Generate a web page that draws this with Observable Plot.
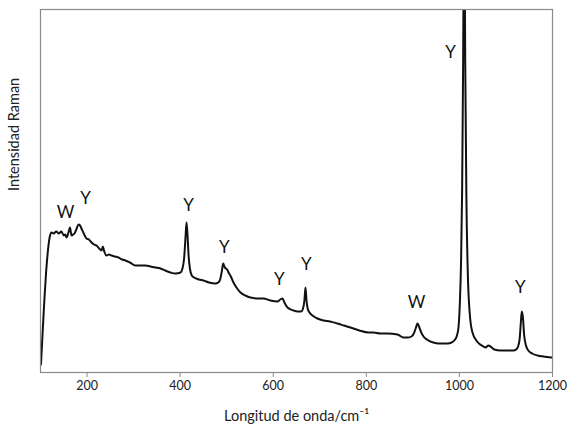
<!DOCTYPE html>
<html>
<head>
<meta charset="utf-8">
<script src="https://cdn.jsdelivr.net/npm/d3@7"></script>
<script src="https://cdn.jsdelivr.net/npm/@observablehq/plot@0.6"></script>
<style>
  html, body { margin: 0; padding: 0; background: #fff; }
  svg { display: block; }
</style>
</head>
<body>
<div id="chart"></div>
<script>
// Raman spectrum (wavenumber cm-1, intensity in arbitrary units)
const wavenumber = [101, 104, 108, 112, 116, 120, 124, 128, 134, 139, 145, 150, 153, 156, 160, 163.5, 166.5, 170, 173, 177, 181.5, 185, 188, 193, 198.8, 204, 209.6, 215, 220.3, 226, 231, 234, 237, 241.8, 247, 252.5, 260, 267.6, 275, 282.6, 292, 304, 315, 325.6, 336, 347, 357.8, 368, 379.3, 390, 400.8, 405, 408.5, 411.5, 413.7, 415.8, 418, 421, 425, 430, 440, 450.2, 462, 476, 482, 486, 489.5, 492.5, 495, 498, 501, 504, 509, 514.6, 521, 529.7, 540, 551, 568.4, 579, 594, 609, 615, 620, 624, 630.6, 643.5, 652, 660, 664, 667, 669.3, 671.5, 674, 678, 684.4, 695, 708, 722, 738, 752, 766, 785, 804.7, 815.4, 830, 845.5, 867, 880, 890, 897, 902, 906, 910, 914, 918, 923, 930, 944, 955, 965.8, 975, 983, 989, 994, 998, 1001, 1003.5, 1005.8, 1008, 1010.2, 1012.5, 1015, 1018, 1022, 1028, 1038, 1051.7, 1056, 1062.5, 1075, 1088, 1102, 1116, 1122, 1126, 1129.5, 1132, 1134, 1136.5, 1139, 1143, 1148, 1156.4, 1168, 1180.6, 1198];
const intensity = [8, 35, 70, 100, 122, 136, 140, 139, 141, 139, 141, 137, 138, 135, 140, 145, 137, 138, 139, 143, 148, 147, 144, 139, 134, 133, 130, 128, 127, 124, 122, 126, 121, 117, 118, 117, 116, 115, 113, 112, 110, 107, 107, 107, 106, 105, 104, 102, 100, 99, 100, 104, 114, 135, 150, 138, 118, 104, 97, 95, 93, 92, 90, 89, 90, 93, 101, 109, 106, 104, 103, 100, 96, 90, 85, 80, 77, 75, 74, 74, 72, 71, 73, 74, 70, 65, 62, 61, 61, 64, 72, 85, 72, 64, 60, 57, 54, 52, 51, 49, 47, 45, 42, 40, 40, 39, 39, 38, 35, 35, 36, 39, 44, 49, 45, 40, 36, 33, 30, 29, 29, 29, 30, 32, 36, 45, 70, 110, 180, 310, 480, 310, 175, 100, 60, 40, 31, 26, 25, 27, 23, 22, 22, 22, 23, 26, 34, 50, 61, 55, 38, 27, 22, 19, 17, 16, 15];

// Band assignments
const bandText = ["W", "Y", "Y", "Y", "Y", "Y", "W", "Y", "Y"];
const bandX = [154, 197, 418, 495, 613, 671, 908, 981, 1131];
const bandY = [160, 174, 167, 125, 93, 108, 70, 320, 85];

const xTicks = [200, 400, 600, 800, 1000, 1200];
const xTitle = "Longitud de onda/cm\u207B\u00B9";
const yTitle = "Intensidad Raman";

const spectrum = wavenumber.map((w, i) => ({w, v: intensity[i]}));
const bands = bandText.map((t, i) => ({t, x: bandX[i], y: bandY[i]}));

const font = "Lato, 'Open Sans', 'DejaVu Sans', sans-serif";

const chart = Plot.plot({
  width: 567,
  height: 431,
  marginLeft: 40,
  marginRight: 15,
  marginTop: 9,
  marginBottom: 59,
  style: {fontFamily: font, background: "#fff", color: "#222"},
  x: {domain: [100, 1200], ticks: xTicks, label: null},
  y: {domain: [0, 363], axis: null},
  marks: [
    Plot.line(spectrum, {x: "w", y: "v", stroke: "#111", strokeWidth: 2, clip: true, curve: "monotone-x"}),
    Plot.frame({stroke: "#8a8a8a", strokeWidth: 1.2}),
    Plot.axisX({ticks: xTicks, tickFormat: d => String(d), tickSize: 5, tickPadding: 4, fontSize: 12.5, label: null, stroke: "#8a8a8a", color: "#222"}),
    Plot.text(bands, {x: "x", y: "y", text: "t", fontSize: 17, fill: "#111"}),
    Plot.text([xTitle], {text: d => d, frameAnchor: "bottom", dy: 48, fontSize: 14.5, fill: "#222"}),
    Plot.text([yTitle], {text: d => d, frameAnchor: "left", rotate: -90, dx: -26, fontSize: 14.5, fill: "#222"})
  ]
});
document.getElementById("chart").appendChild(chart);
</script>
</body>
</html>
